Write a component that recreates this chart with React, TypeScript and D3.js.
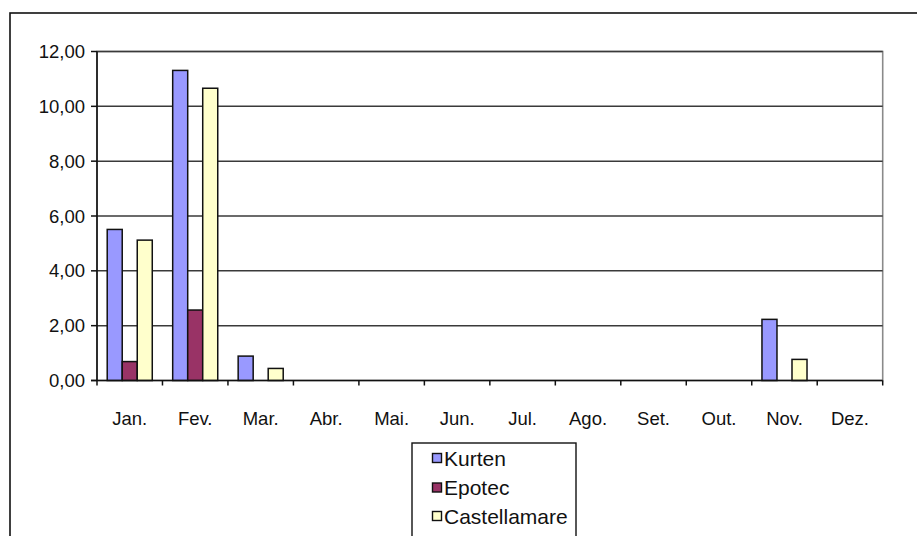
import React from "react";
import * as d3 from "d3";

const months = ["Jan.", "Fev.", "Mar.", "Abr.", "Mai.", "Jun.", "Jul.", "Ago.", "Set.", "Out.", "Nov.", "Dez."];
const seriesNames = ["Kurten", "Epotec", "Castellamare"];
const kurten = [5.51, 11.31, 0.89, 0, 0, 0, 0, 0, 0, 0, 2.23, 0];
const epotec = [0.69, 2.57, 0, 0, 0, 0, 0, 0, 0, 0, 0, 0];
const castellamare = [5.12, 10.66, 0.44, 0, 0, 0, 0, 0, 0, 0, 0.77, 0];
const seriesColors = ["#9999FF", "#993366", "#FFFFCC"];
const yTicks = [0, 2, 4, 6, 8, 10, 12];

const W = 917;
const H = 536;
const FONT = "'Liberation Sans', Arial, sans-serif";

const ptLocale = d3.formatLocale({ decimal: ",", thousands: ".", grouping: [3], currency: ["", ""] });
const fmt = ptLocale.format(".2f");

export default function App() {
  const plot = { left: 97, right: 882.7, top: 51.5, bottom: 380.5 };
  const x = d3.scaleBand<string>().domain(months).range([plot.left, plot.right]).padding(0);
  const xs = d3
    .scaleBand<string>()
    .domain(seriesNames)
    .range([0, x.bandwidth()])
    .paddingInner(0)
    .paddingOuter(0.68);
  const y = d3.scaleLinear().domain([0, 12]).range([plot.bottom, plot.top]);
  const data = [kurten, epotec, castellamare];

  const boundaries = months.map((m) => x(m) as number).concat([plot.right]);

  const legend = { x: 412, y: 443, w: 164, h: 110 };
  const legendRows = [458, 487.5, 516];

  return (
    <svg
      width={W}
      height={H}
      style={{ position: "absolute", left: 0, top: 0, background: "#fff" }}
      fontFamily={FONT}
    >
      <rect x={0} y={0} width={W} height={H} fill="#fff" />
      {/* chart frame */}
      <rect x={10} y={13} width={W + 20} height={H + 20} fill="none" stroke="#111" strokeWidth={1.6} />

      {/* plot area border */}
      <rect
        x={plot.left}
        y={plot.top}
        width={plot.right - plot.left}
        height={plot.bottom - plot.top}
        fill="#fff"
        stroke="#8a8a8a"
        strokeWidth={1.6}
      />

      {/* horizontal gridlines */}
      {yTicks.slice(1).map((t) => (
        <line key={t} x1={plot.left} x2={plot.right} y1={y(t)} y2={y(t)} stroke="#3a3a3a" strokeWidth={1.5} />
      ))}

      {/* bars */}
      {data.map((vals, si) =>
        vals.map((v, mi) =>
          v > 0 ? (
            <rect
              key={`${si}-${mi}`}
              x={(x(months[mi]) as number) + (xs(seriesNames[si]) as number)}
              y={y(v)}
              width={xs.bandwidth()}
              height={y(0) - y(v)}
              fill={seriesColors[si]}
              stroke="#111"
              strokeWidth={1.5}
            />
          ) : null
        )
      )}

      {/* y axis */}
      <line x1={plot.left} x2={plot.left} y1={plot.top} y2={plot.bottom} stroke="#111" strokeWidth={1.6} />
      {yTicks.map((t) => (
        <g key={t}>
          <line x1={plot.left - 6} x2={plot.left} y1={y(t)} y2={y(t)} stroke="#111" strokeWidth={1.5} />
          <text
            x={85}
            y={y(t)}
            dy="0.36em"
            textAnchor="end"
            fontSize={18.5}
            fill="#111"
          >
            {fmt(t)}
          </text>
        </g>
      ))}

      {/* x axis */}
      <line x1={plot.left - 6} x2={plot.right} y1={plot.bottom} y2={plot.bottom} stroke="#111" strokeWidth={1.6} />
      {boundaries.map((b, i) => (
        <line key={i} x1={b} x2={b} y1={plot.bottom} y2={plot.bottom + 5} stroke="#111" strokeWidth={1.5} />
      ))}
      {months.map((m) => (
        <text
          key={m}
          x={(x(m) as number) + x.bandwidth() / 2}
          y={425}
          textAnchor="middle"
          fontSize={18.5}
          fill="#111"
        >
          {m}
        </text>
      ))}

      {/* legend */}
      <rect x={legend.x} y={legend.y} width={legend.w} height={legend.h} fill="#fff" stroke="#111" strokeWidth={1.4} />
      {seriesNames.map((name, i) => (
        <g key={name}>
          <rect
            x={432.5}
            y={legendRows[i] - 4.5}
            width={9}
            height={9}
            fill={seriesColors[i]}
            stroke="#111"
            strokeWidth={1.4}
          />
          <text x={444} y={legendRows[i]} dy="0.36em" fontSize={21} fill="#111">
            {name}
          </text>
        </g>
      ))}
    </svg>
  );
}
